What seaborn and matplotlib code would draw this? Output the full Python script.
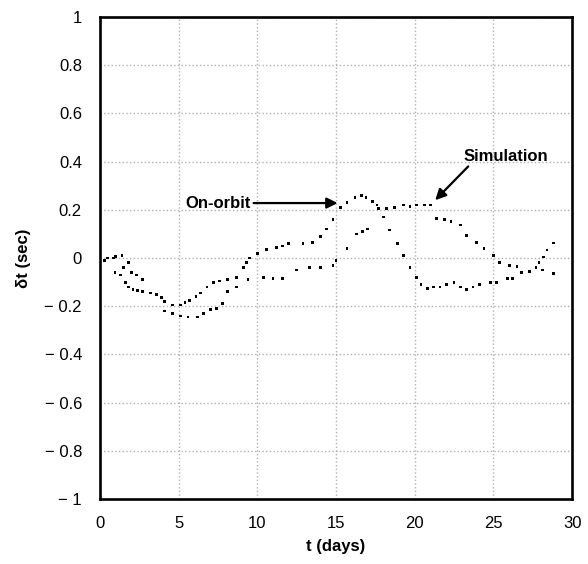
import pandas as pd
import matplotlib
matplotlib.use("Agg")
import matplotlib.pyplot as plt
import seaborn as sns

sns.set_theme(style="white")
plt.rcParams["font.family"] = ["Liberation Sans", "DejaVu Sans"]
plt.rcParams["text.color"] = "black"
plt.rcParams["axes.labelcolor"] = "black"

# On-orbit timing offset
orbit_t = [0.3, 0.85, 0.95, 1.3, 1.4, 1.6, 1.8, 1.8, 2.1, 2.4, 2.7, 3.2, 3.6, 3.9,
           4.1, 4.6, 5.1, 5.4, 5.7, 6.1, 6.4, 6.8, 7.2, 7.6, 8.1, 8.7, 9.1, 9.3,
           9.5, 10.0, 10.6, 11.2, 11.6, 12.0, 12.9, 13.5, 14.0, 14.4, 14.8, 15.3,
           15.7, 16.2, 16.6, 16.9, 17.3, 17.6, 18.0, 18.4, 18.9, 19.3, 19.7, 20.1,
           20.4, 20.8, 21.2, 21.6, 22.0, 22.5, 22.9, 23.3, 23.7, 24.1, 24.8, 25.2,
           25.9, 26.2, 26.8, 27.3, 27.7, 27.9, 28.2, 28.4, 28.8]
orbit_dt = [-0.01, 0.0, -0.06, -0.07, 0.012, -0.10, -0.017, -0.12, -0.13, -0.135,
            -0.14, -0.145, -0.15, -0.165, -0.18, -0.195, -0.195, -0.185, -0.175,
            -0.16, -0.145, -0.12, -0.10, -0.095, -0.09, -0.08, -0.04, -0.02, 0.0,
            0.02, 0.035, 0.045, 0.05, 0.06, 0.06, 0.065, 0.09, 0.12, 0.16, 0.21,
            0.23, 0.25, 0.26, 0.25, 0.235, 0.22, 0.17, 0.116, 0.06, 0.012, -0.04,
            -0.08, -0.11, -0.125, -0.12, -0.12, -0.11, -0.10, -0.12, -0.13, -0.12,
            -0.11, -0.10, -0.10, -0.085, -0.085, -0.06, -0.055, -0.04, -0.017,
            0.004, 0.033, 0.062]

# Simulation
sim_t = [0.5, 1.0, 1.5, 2.0, 2.3, 2.7, 4.1, 4.6, 5.1, 5.6, 6.2, 6.6, 7.0, 7.4,
         7.8, 8.1, 8.7, 9.4, 10.4, 11.0, 11.6, 12.5, 13.3, 14.0, 14.8, 15.0,
         15.7, 16.3, 16.7, 17.0, 17.7, 18.2, 18.7, 19.3, 19.7, 20.1, 20.6, 21.0,
         21.4, 21.9, 22.3, 22.9, 23.3, 23.9, 24.4, 25.0, 25.4, 26.0, 26.5, 27.7,
         28.1, 28.8]
sim_dt = [0.0, 0.005, -0.04, -0.06, -0.07, -0.09, -0.22, -0.23, -0.24, -0.245,
          -0.245, -0.23, -0.215, -0.21, -0.19, -0.14, -0.12, -0.09, -0.08, -0.085,
          -0.085, -0.05, -0.04, -0.04, -0.03, -0.01, 0.04, 0.10, 0.11, 0.12,
          0.205, 0.205, 0.21, 0.22, 0.215, 0.22, 0.22, 0.22, 0.165, 0.16, 0.15,
          0.137, 0.095, 0.066, 0.04, 0.012, -0.017, -0.03, -0.035, -0.04, -0.05,
          -0.065]

df = pd.concat([
    pd.DataFrame({"t": orbit_t, "dt": orbit_dt, "series": "On-orbit"}),
    pd.DataFrame({"t": sim_t, "dt": sim_dt, "series": "Simulation"}),
])

y_ticks = [-1, -0.8, -0.6, -0.4, -0.2, 0, 0.2, 0.4, 0.6, 0.8, 1]
x_ticks = [0, 5, 10, 15, 20, 25, 30]

fig = plt.figure(figsize=(5.88, 5.64), dpi=100)
ax = fig.add_axes([0.170, 0.115, 0.803, 0.855])

sns.scatterplot(data=df, x="t", y="dt", hue="series",
                palette={"On-orbit": "black", "Simulation": "black"},
                marker="s", s=4, linewidth=0, legend=False, ax=ax)

ax.set_xlim(0, 30)
ax.set_ylim(-1, 1)
ax.set_xticks(x_ticks)
ax.set_yticks(y_ticks)
ax.set_xticklabels([str(v) for v in x_ticks])
ax.set_yticklabels([("\u2212 " + f"{abs(v):g}") if v < 0 else f"{v:g}" for v in y_ticks])
ax.tick_params(axis="both", length=0, labelsize=12, colors="black")
ax.tick_params(axis="y", pad=13)
ax.tick_params(axis="x", pad=12)

ax.grid(True, color="#b0b0b0", linestyle=":", linewidth=1.0)
for side in ["left", "right", "top", "bottom"]:
    ax.spines[side].set_color("black")
    ax.spines[side].set_linewidth(1.9)

ax.set_xlabel("t (days)", fontsize=12, fontweight="bold", labelpad=6)
ax.set_ylabel("\u03b4t (sec)", fontsize=12, fontweight="bold", labelpad=10)

arrow = dict(arrowstyle="-|>", color="black", lw=1.6, mutation_scale=16,
             shrinkA=0, shrinkB=0)
ax.annotate("On-orbit", xy=(15.1, 0.228), xytext=(5.4, 0.228),
            fontsize=12, fontweight="bold", va="center", ha="left",
            arrowprops=arrow)
ax.annotate("", xy=(21.3, 0.24), xytext=(23.4, 0.38), arrowprops=arrow)
ax.text(23.1, 0.42, "Simulation", fontsize=12, fontweight="bold",
        va="center", ha="left")

plt.savefig("out.png", dpi=100)
